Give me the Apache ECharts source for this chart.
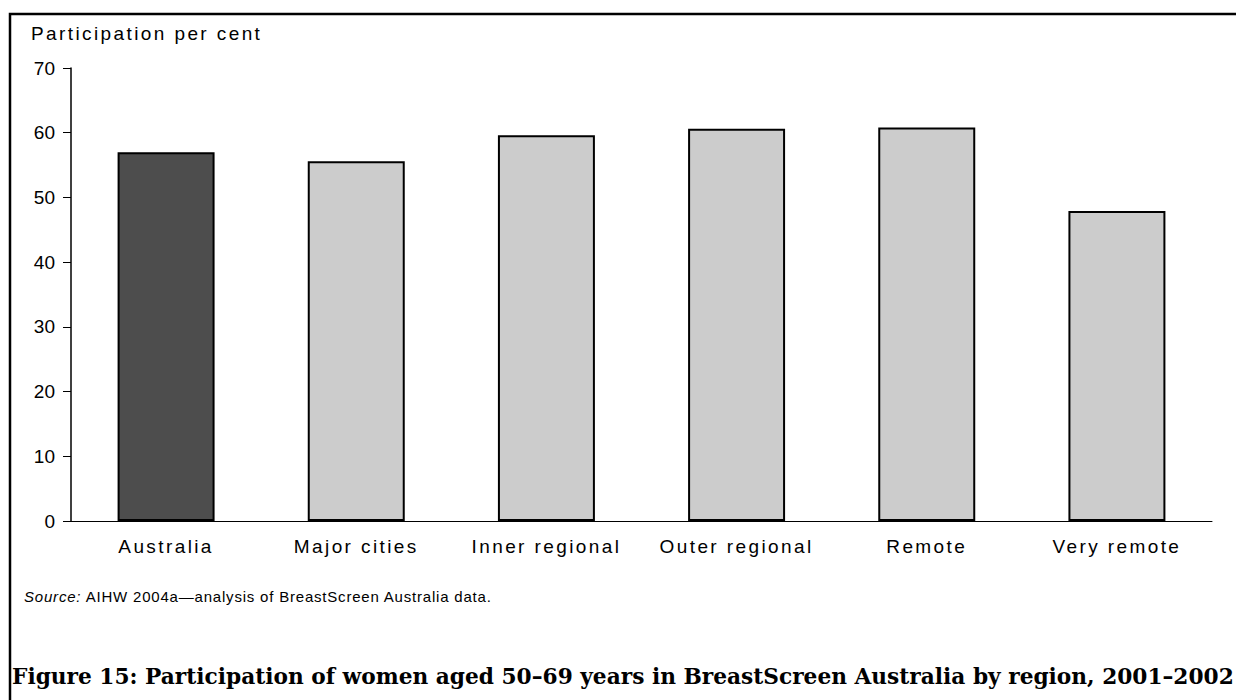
<!DOCTYPE html>
<html>
<head>
<meta charset="utf-8">
<style>
html,body{margin:0;padding:0;background:#fff;}
#chart{width:1236px;height:700px;}
</style>
<script src="https://cdn.jsdelivr.net/npm/echarts@6/dist/echarts.min.js"></script>
</head>
<body>
<div id="chart"></div>
<script>
const categories = ['Australia', 'Major cities', 'Inner regional', 'Outer regional', 'Remote', 'Very remote'];
const participation = [57.0, 55.6, 59.6, 60.6, 60.8, 47.9];
const yTicks = [0, 10, 20, 30, 40, 50, 60, 70];
const axisTitle = 'Participation per cent';
const sourceLabel = 'Source:';
const sourceText = 'AIHW 2004a\u2014analysis of BreastScreen Australia data.';
const caption = 'Figure 15: Participation of women aged 50\u201369 years in BreastScreen Australia by region, 2001\u20132002';

const chart = echarts.init(document.getElementById('chart'), null, {renderer: 'svg'});
const sans = 'Liberation Sans, Arial, sans-serif';
chart.setOption({
  animation: false,
  backgroundColor: '#fff',
  grid: {left: 71, right: 24, top: 68, bottom: 179, containLabel: false},
  xAxis: {
    type: 'category',
    data: categories,
    axisLine: {lineStyle: {color: '#000', width: 1}},
    axisTick: {alignWithLabel: true, length: 7, lineStyle: {color: '#000'}},
    axisLabel: {color: '#000', fontFamily: sans, fontSize: 19, margin: 16}
  },
  yAxis: {
    type: 'value',
    min: yTicks[0],
    max: yTicks[yTicks.length - 1],
    interval: 10,
    splitLine: {show: false},
    axisLine: {show: true, lineStyle: {color: '#000', width: 1.5}},
    axisTick: {show: true, length: 8, lineStyle: {color: '#000'}},
    axisLabel: {color: '#000', fontFamily: sans, fontSize: 19, margin: 16}
  },
  series: [{
    type: 'bar',
    barWidth: '51%',
    data: participation.map((v, i) => ({
      value: v,
      itemStyle: {color: i === 0 ? '#4d4d4d' : '#cccccc'}
    })),
    itemStyle: {borderColor: '#000', borderWidth: 2}
  }],
  graphic: [
    {type: 'polyline', shape: {points: [[10, 700], [10, 14], [1236, 14]]},
     style: {stroke: '#000', lineWidth: 2.5, fill: null}},
    {type: 'text', left: 31, top: 24,
     style: {text: axisTitle, font: '19px ' + sans, fill: '#000'}},
    {type: 'text', left: 24, top: 589,
     style: {
       text: '{i|' + sourceLabel + '}{n|' + sourceText + '}',
       rich: {
         i: {fontStyle: 'italic', fontSize: 15, fontFamily: sans, fill: '#000'},
         n: {fontSize: 15, fontFamily: sans, fill: '#000', padding: [0, 0, 0, 10]}
       }
     }},
    {type: 'text', left: 12, top: 665,
     style: {text: caption, font: 'bold 21.7px DejaVu Serif, serif', fill: '#000'}}
  ]
});

// Reproduce the wide letter spacing of the original typesetting.
const spaced = new Set(categories.concat([axisTitle]));
document.querySelectorAll('#chart svg text').forEach(t => {
  const s = t.textContent;
  if (spaced.has(s)) {
    t.style.letterSpacing = '2.4px';
  } else if (s === sourceText || s === sourceLabel) {
    t.style.letterSpacing = '0.8px';
  }
});
</script>
</body>
</html>
